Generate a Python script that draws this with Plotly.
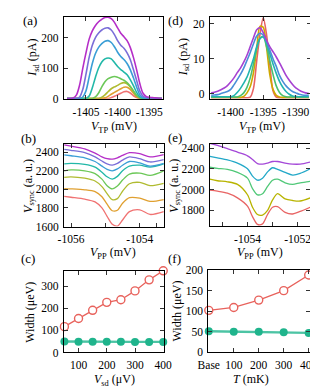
import plotly.graph_objects as go

W, H = 318, 388
FONT = "Liberation Serif"

# ---------------- Panel (a) ----------------
xa = [-1408.0, -1407.5, -1407.0, -1406.5, -1406.0, -1405.5, -1405.0, -1404.5, -1404.0, -1403.5,
      -1403.0, -1402.5, -1402.0, -1401.5, -1401.0, -1400.5, -1400.0, -1399.5, -1399.0, -1398.5,
      -1398.0, -1397.5, -1397.0, -1396.5, -1396.0, -1395.5, -1395.0, -1394.5, -1394.0, -1393.5, -1393.0]
a_red = [0, 0, 0, 0, 0, 0, 0, 0, 0, 0, 0, 0, 0, 0, 3, 7, 12, 17, 22, 23, 18, 9, 3, 0, 0, 0, 0, 0, 0, 0, 0]
a_orange = [0, 0, 0, 0, 0, 0, 0, 0, 0, 0, 0, 0, 2, 7, 14, 20, 26, 32, 37, 37, 30, 18, 6, 1, 0, 0, 0, 0, 0, 0, 0]
a_ygreen = [0, 0, 0, 0, 0, 0, 0, 0, 0, 0, 0, 4, 12, 22, 32, 38, 43, 49, 52, 48, 38, 24, 10, 2, 0, 0, 0, 0, 0, 0, 0]
a_green = [0, 0, 0, 0, 0, 0, 0, 0, 0, 5, 18, 38, 55, 65, 70, 72, 70, 65, 60, 52, 40, 25, 10, 2, 0, 0, 0, 0, 0, 0, 0]
a_teal = [0, 0, 0, 0, 0, 0, 0, 8, 35, 70, 100, 120, 130, 133, 130, 118, 105, 95, 87, 78, 62, 42, 20, 5, 0, 0, 0, 0, 0, 0, 0]
a_blue = [0, 0, 0, 0, 0, 5, 25, 70, 115, 148, 168, 180, 188, 190, 184, 170, 152, 138, 128, 115, 95, 68, 38, 12, 3, 0, 0, 0, 0, 0, 0]
a_violet = [0, 0, 0, 0, 5, 30, 80, 135, 175, 200, 215, 225, 231, 232, 225, 210, 190, 175, 165, 150, 128, 95, 60, 25, 8, 3, 1, 0, 0, 0, 0]
a_magenta = [0, 0, 2, 12, 45, 100, 150, 195, 222, 240, 252, 260, 266, 267, 262, 250, 232, 214, 203, 190, 168, 135, 95, 50, 18, 7, 4, 3, 2, 1, 0]
a_series = [a_red, a_orange, a_ygreen, a_green, a_teal, a_blue, a_violet, a_magenta]
a_colors = ["#f07272", "#e0a030", "#b0bb30", "#6cc858", "#22b8a8", "#3a9ed6", "#7a6ed8", "#b52ec8"]

# ---------------- Panel (d) ----------------
xd = [-1403.0, -1402.5, -1402.0, -1401.5, -1401.0, -1400.5, -1400.0, -1399.5, -1399.0, -1398.5,
      -1398.0, -1397.5, -1397.0, -1396.5, -1396.0, -1395.5, -1395.0, -1394.5, -1394.0, -1393.5,
      -1393.0, -1392.5, -1392.0, -1391.5, -1391.0, -1390.5, -1390.0, -1389.5, -1389.0, -1388.5, -1388.0]
d_red = [-1.2, -1.2, -1.2, -1.2, -1.2, -1.2, -1.2, -1.2, -1.2, -1.2, -1.2, -1.2, -1.0, 1.5, 9.5, 17.0,
         21.8, 17.0, 8.5, 0.8, -1.0, -1.2, -1.2, -1.2, -1.2, -1.2, -1.2, -1.2, -1.2, -1.2, -1.2]
d_gold = [-1.1, -1.1, -1.1, -1.1, -1.1, -1.1, -1.1, -1.1, -1.1, -1.1, -0.8, 0.2, 2.0, 6.0, 13.0, 19.3,
          19.0, 13.4, 5.5, 1.2, -0.5, -1.0, -1.1, -1.1, -1.1, -1.1, -1.1, -1.1, -1.1, -1.1, -1.1]
d_green = [-1.0, -1.0, -1.0, -1.0, -1.0, -1.0, -1.0, -1.0, -1.0, -0.6, 0.2, 1.8, 4.5, 8.5, 13.0, 15.8,
           16.4, 13.5, 9.5, 5.5, 2.2, 0.3, -0.6, -0.9, -1.0, -1.0, -1.0, -1.0, -1.0, -1.0, -1.0]
d_teal = [-0.9, -0.9, -0.9, -0.9, -0.9, -0.9, -0.9, -0.6, 0.3, 1.5, 3.0, 4.7, 7.2, 10.0, 13.5, 15.8,
          16.2, 14.5, 11.5, 8.5, 5.8, 3.5, 1.8, 0.6, -0.2, -0.7, -0.8, -0.9, -0.9, -0.9, -0.9]
d_blue = [-0.5, -0.4, -0.3, 0.0, 0.3, 0.6, 1.2, 2.5, 4.0, 5.5, 7.3, 9.5, 11.8, 14.3, 16.5, 17.3,
          16.8, 15.0, 12.5, 10.0, 7.8, 5.2, 3.5, 2.2, 1.3, 0.6, 0.2, -0.2, -0.4, -0.5, -0.5]
d_purple = [0.2, 0.4, 0.7, 1.1, 1.6, 2.3, 3.3, 4.5, 6.0, 7.3, 9.0, 11.0, 13.5, 16.0, 18.3, 18.9,
            17.5, 15.3, 13.5, 12.0, 10.5, 8.8, 7.0, 5.2, 3.8, 2.6, 1.6, 1.0, 0.5, 0.2, 0.0]
d_series = [d_red, d_gold, d_green, d_teal, d_blue, d_purple]
d_colors = ["#e86464", "#cfa800", "#4cc070", "#22b4b0", "#4a8ed8", "#a642d2"]

# ---------------- Panel (b) ----------------
xb = [-1056.2, -1056.0, -1055.6, -1055.3, -1055.1, -1054.95, -1054.8, -1054.65, -1054.5, -1054.3,
      -1054.0, -1053.7, -1053.3]
b_red = [1925, 1915, 1895, 1865, 1800, 1710, 1625, 1605, 1670, 1760, 1780, 1730, 1760]
b_orange = [2008, 2005, 1995, 1975, 1920, 1840, 1770, 1775, 1850, 1910, 1905, 1870, 1890]
b_ygreen = [2130, 2135, 2120, 2090, 2030, 1955, 1890, 1900, 1980, 2060, 2075, 2040, 2065]
b_green = [2200, 2210, 2200, 2170, 2110, 2040, 2005, 2035, 2100, 2165, 2175, 2150, 2200]
b_teal = [2275, 2280, 2270, 2240, 2185, 2135, 2110, 2140, 2200, 2250, 2260, 2240, 2275]
b_blue = [2372, 2362, 2340, 2300, 2250, 2215, 2200, 2220, 2260, 2300, 2285, 2250, 2280]
b_violet = [2430, 2420, 2395, 2350, 2305, 2275, 2262, 2280, 2315, 2350, 2330, 2295, 2320]
b_magenta = [2478, 2465, 2435, 2390, 2350, 2330, 2325, 2340, 2365, 2395, 2385, 2350, 2375]
b_series = [b_red, b_orange, b_ygreen, b_green, b_teal, b_blue, b_violet, b_magenta]

# ---------------- Panel (e) ----------------
xe = [-1055.5, -1055.2, -1054.8, -1054.4, -1054.0, -1053.8, -1053.6, -1053.4, -1053.2, -1053.0,
      -1052.8, -1052.5, -1052.2, -1051.9, -1051.5]
e_red = [1995, 1985, 1965, 1920, 1840, 1740, 1665, 1670, 1760, 1830, 1835, 1780, 1765, 1790, 1830]
e_yellow = [2100, 2085, 2075, 2050, 1950, 1830, 1760, 1755, 1800, 1900, 1960, 1910, 1895, 1890, 1920]
e_green = [2215, 2205, 2195, 2165, 2110, 2010, 1950, 1960, 2030, 2090, 2100, 2065, 2050, 2065, 2080]
e_teal = [2320, 2305, 2285, 2255, 2200, 2130, 2090, 2110, 2170, 2210, 2195, 2165, 2140, 2155, 2200]
e_purple = [2445, 2425, 2395, 2360, 2325, 2290, 2250, 2245, 2255, 2270, 2270, 2255, 2245, 2245, 2265]
e_series = [e_red, e_yellow, e_green, e_teal, e_purple]
e_colors = ["#e86464", "#b8b400", "#50c878", "#22a8c8", "#a448d8"]

# ---------------- Panel (c) ----------------
vsd = [50, 100, 150, 200, 250, 300, 350, 400]
c_open = [117, 154, 191, 227, 239, 279, 329, 370]
c_filled = [50, 49, 49, 49, 49, 48, 48, 48]

# ---------------- Panel (f) ----------------
temp = [0, 100, 200, 300, 400]
temp_labels = ["Base", "100", "200", "300", "400"]
f_open = [102, 109, 127, 150, 188]
f_filled = [51, 50, 50, 48.5, 47]

RED = "#e8625c"
GREEN = "#1fb48c"
TICKFONT = 11.5
TITLEFONT = 12

fig = go.Figure()

def add_lines(xs, series, colors, xa_, ya_, width, shape="spline"):
    for s, c in zip(series, colors):
        fig.add_trace(go.Scatter(x=xs, y=s, mode="lines", xaxis=xa_, yaxis=ya_,
                                 line=dict(color=c, width=width, shape=shape, smoothing=0.8),
                                 showlegend=False, hoverinfo="skip"))

add_lines(xa, a_series, a_colors, "x", "y", 1.6)
add_lines(xd, d_series, d_colors, "x2", "y2", 1.6)
add_lines(xb, b_series, a_colors, "x3", "y3", 1.3)
add_lines(xe, e_series, e_colors, "x4", "y4", 1.3)

for xs, ys_o, ys_f, xa_, ya_ in [(vsd, c_open, c_filled, "x5", "y5"), (temp, f_open, f_filled, "x6", "y6")]:
    fig.add_trace(go.Scatter(x=xs, y=ys_f, mode="lines+markers", xaxis=xa_, yaxis=ya_,
                             line=dict(color="#4cc4a4", width=2.4),
                             marker=dict(color=GREEN, size=8, line=dict(width=0)),
                             showlegend=False, cliponaxis=False))
    fig.add_trace(go.Scatter(x=xs, y=ys_o, mode="lines+markers", xaxis=xa_, yaxis=ya_,
                             line=dict(color=RED, width=1.3),
                             marker=dict(color="white", size=8, line=dict(color=RED, width=1.4)),
                             showlegend=False, cliponaxis=False))

def px(x):
    return x / W

def py(y):
    return 1 - y / H

def axis(x0, x1, rng, tickvals, ticktext, anchor, vertical=False, minor=None):
    d = dict(range=rng, tickvals=tickvals, ticktext=ticktext, ticks="inside", ticklen=4,
             tickwidth=1, tickcolor="#333", showline=True, linecolor="black", linewidth=1,
             mirror="allticks", showgrid=False, zeroline=False, anchor=anchor,
             tickfont=dict(family=FONT, size=TICKFONT, color="black"), ticklabelstandoff=2)
    if minor is not None:
        d["minor"] = dict(tickvals=minor, ticks="inside", ticklen=4, tickwidth=1,
                          tickcolor="#333", showgrid=False)
    if vertical:
        d["domain"] = [py(x1), py(x0)]
    else:
        d["domain"] = [px(x0), px(x1)]
    return d

hy = lambda vals: [str(v) for v in vals]
hx = lambda vals: ["-" + str(abs(v)) for v in vals]

layout = dict(
    width=W, height=H, margin=dict(l=0, r=0, t=0, b=0),
    paper_bgcolor="white", plot_bgcolor="white", showlegend=False,
    xaxis=axis(47.7, 153.3, [-1408.5, -1392.8], [-1405, -1400, -1395], hx([-1405, -1400, -1395]), "y"),
    yaxis=axis(3, 87.5, [-1, 268], [0, 100, 200], hy([0, 100, 200]), "x", True),
    xaxis2=axis(203, 311, [-1403.2, -1387.6], [-1400, -1395, -1390], hx([-1400, -1395, -1390]), "y2"),
    yaxis2=axis(3, 87.5, [-1.5, 22], [0, 10, 20], hy([0, 10, 20]), "x2", True),
    xaxis3=axis(48, 154, [-1056.2, -1053.3], [-1056, -1054], hx([-1056, -1054]), "y3",
                minor=[-1055, -1053.5]),
    yaxis3=axis(134, 219.3, [1600, 2490], [1600, 1800, 2000, 2200, 2400], hy([1600, 1800, 2000, 2200, 2400]), "x3", True),
    xaxis4=axis(203, 309.7, [-1055.5, -1051.5], [-1054, -1052], hx([-1054, -1052]), "y4",
                minor=[-1055, -1053]),
    yaxis4=axis(134, 218.7, [1650, 2440], [1800, 2000, 2200, 2400], hy([1800, 2000, 2200, 2400]), "x4", True),
    xaxis5=axis(47.7, 154, [48, 402], [100, 200, 300, 400], hy([100, 200, 300, 400]), "y5"),
    yaxis5=axis(265, 349.3, [0, 370], [0, 100, 200, 300], hy([0, 100, 200, 300]), "x5", True),
    xaxis6=axis(201.3, 309.7, [-2, 406], temp, temp_labels, "y6"),
    yaxis6=axis(264.3, 349, [0, 200], [0, 50, 100, 150, 200], hy([0, 50, 100, 150, 200]), "x6", True),
)
fig.update_layout(**layout)

ann = []
def label(text, x, y, angle=0, size=TITLEFONT):
    ann.append(dict(text=text, x=px(x), y=py(y), xref="paper", yref="paper", showarrow=False,
                    xanchor="center", yanchor="middle", textangle=angle,
                    font=dict(family=FONT, size=size, color="black")))

label("(a)", 12, 7, size=13)
label("(d)", 166, 7, size=13)
label("(b)", 10, 128, size=13)
label("(e)", 166, 127, size=13)
label("(c)", 10, 252, size=13)
label("(f)", 165, 252, size=13)

label("<i>I</i><sub>sd</sub> (pA)", 15, 45, -90)
label("<i>I</i><sub>sd</sub> (pA)", 175, 45, -90)
label("<i>V</i><sub>TP</sub> (mV)", 101, 117)
label("<i>V</i><sub>TP</sub> (mV)", 258, 117)
label("<i>V</i><sub>sync</sub> (a. u.)", 10, 177, -90)
label("<i>V</i><sub>sync</sub> (a. u.)", 165, 177, -90)
label("<i>V</i><sub>PP</sub> (mV)", 100, 247)
label("<i>V</i><sub>PP</sub> (mV)", 256, 247)
label("Width (μeV)", 12, 308, -90)
label("Width (μeV)", 167, 307, -90)
label("<i>V</i><sub>sd</sub> (μV)", 102, 378)
label("<i>T</i> (mK)", 247, 377)

fig.update_layout(annotations=ann)
fig.write_html("out.html")
